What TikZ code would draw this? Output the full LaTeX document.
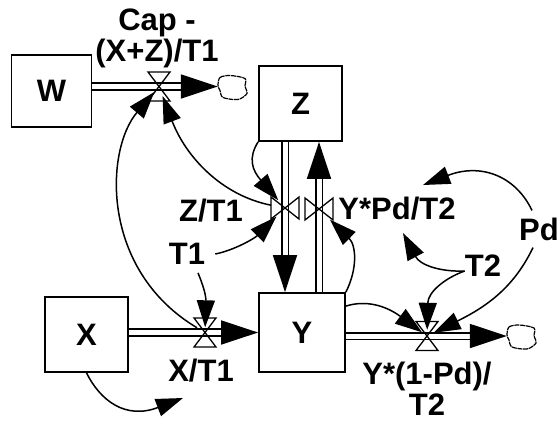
\documentclass[tikz,border=0pt]{standalone}
\usepackage{fontspec}
\setmainfont{Liberation Sans}
\usetikzlibrary{arrows.meta}
\tikzset{
  stock/.style={draw, line width=1.8pt, inner sep=0pt},
  valve/.style={inner sep=0pt, minimum size=0pt},
  label/.style={inner sep=0pt, align=center},
  pipe/.style={draw, double, double distance=5pt, line width=1.7pt, -{Triangle[length=37pt,width=24pt]}},
  link/.style={draw, line width=1.5pt, -{Triangle[length=27pt,width=18pt]}},
  valveline/.style={draw, line width=1.3pt},
  cloudline/.style={draw, line width=1.2pt, dash pattern=on 5pt off 0.7pt}
}
\begin{document}
\begin{tikzpicture}[x=1pt, y=-1pt, font=\fontsize{31}{31}\selectfont\bfseries]
  \useasboundingbox (0,0) rectangle (559,421);
  \node[stock, minimum width=80pt, minimum height=72pt] (w) at (51.5,91) {W};
  \node[stock, minimum width=83pt, minimum height=75pt] (z) at (300.5,103.5) {Z};
  \node[stock, minimum width=83pt, minimum height=75pt] (x) at (86.5,334.5) {X};
  \node[stock, minimum width=86pt, minimum height=79pt] (y) at (302,332.5) {Y};
  \node[valve] (vw) at (159,86.5) {};
  \node[valve] (vx) at (205,332.5) {};
  \node[valve] (vo) at (427,336) {};
  \node[valve] (vz) at (285,208) {};
  \node[valve] (vy) at (319,209) {};
  \node[valve] (cw) at (218,86.5) {};
  \node[valve] (co) at (507,336) {};
  \coordinate (xend) at (183,398);
  \coordinate (pdend) at (423,185);
  \coordinate (t2end) at (403,233);
  \node[label] (lw) at (157,38) {Cap -\\(X+Z)/T1};
  \node[label] (lx) at (201,371) {X/T1};
  \node[label] (lz) at (211,211) {Z/T1};
  \node[label] (ly) at (397,209) {Y*Pd/T2};
  \node[label] (lo) at (427,388.5) {Y*(1-Pd)/\\T2};
  \node[label] (t1) at (187,254) {T1};
  \node[label] (t2) at (483,266) {T2};
  \node[label] (pd) at (539,229) {Pd};
  \foreach \c in {cw,co}
    \draw[cloudline, shift={(\c)}] plot[smooth cycle] coordinates {(0,-1) (2,-9) (12,-11) (27,-8) (27,0) (29,7) (20,13) (5,11) (2,4)};
  \draw[pipe] (vw-|w.east) -- (cw);
  \draw[pipe] (vx-|x.east) -- (vx-|y.west);
  \draw[pipe] (vo-|y.east) -- (co);
  \draw[pipe] (vz|-z.south) -- (vz|-y.north);
  \draw[pipe] (vy|-y.north) -- (vy|-z.south);
  \foreach \v in {vw,vx,vo}
    \draw[valveline] (\v) +(-11,-14.5) -- +(11,-14.5) -- +(-11,14.5) -- +(11,14.5) -- cycle;
  \foreach \v in {vz,vy}
    \draw[valveline] (\v) +(-14,-11) -- +(-14,11) -- +(14,-11) -- +(14,11) -- cycle;
  \draw[link, shorten <=9pt, shorten >=7pt] (vx) .. controls (100,270) and (105,150) .. (vw);
  \draw[link, shorten <=14pt, shorten >=10pt] (vz) .. controls (220,195) and (185,155) .. (vw);
  \draw[link, shorten >=10pt] (z.south west) .. controls (248,158) and (252,170) .. (vz);
  \draw[link, shorten >=12pt] ([xshift=10pt]t1.east) .. controls (235,250) and (255,238) .. (vz);
  \draw[link, shorten >=5pt] ([xshift=11pt,yshift=-8pt]t1.south) .. controls (203,285) and (206,295) .. (vx);
  \draw[link] (x.south) .. controls (100,400) and (125,420) .. (xend);
  \draw[link, shorten >=15pt] (y.north east) .. controls (358,268) and (356,245) .. (vy);
  \draw[link, shorten >=6pt] ([yshift=-14pt]y.north east) .. controls (365,300) and (385,305) .. (vo);
  \draw[link, shorten >=6pt] ([yshift=-5pt]t2.west) .. controls (445,278) and (428,292) .. (vo);
  \draw[link] ([yshift=-5pt]t2.west) .. controls (440,272) and (420,265) .. (t2end);
  \draw[link, shorten >=7pt] ([xshift=-6pt,yshift=-7pt]pd.south) .. controls (515,285) and (490,305) .. (vo);
  \draw[link] ([xshift=-7pt,yshift=7pt]pd.north) .. controls (515,175) and (480,163) .. (pdend);
\end{tikzpicture}
\end{document}
